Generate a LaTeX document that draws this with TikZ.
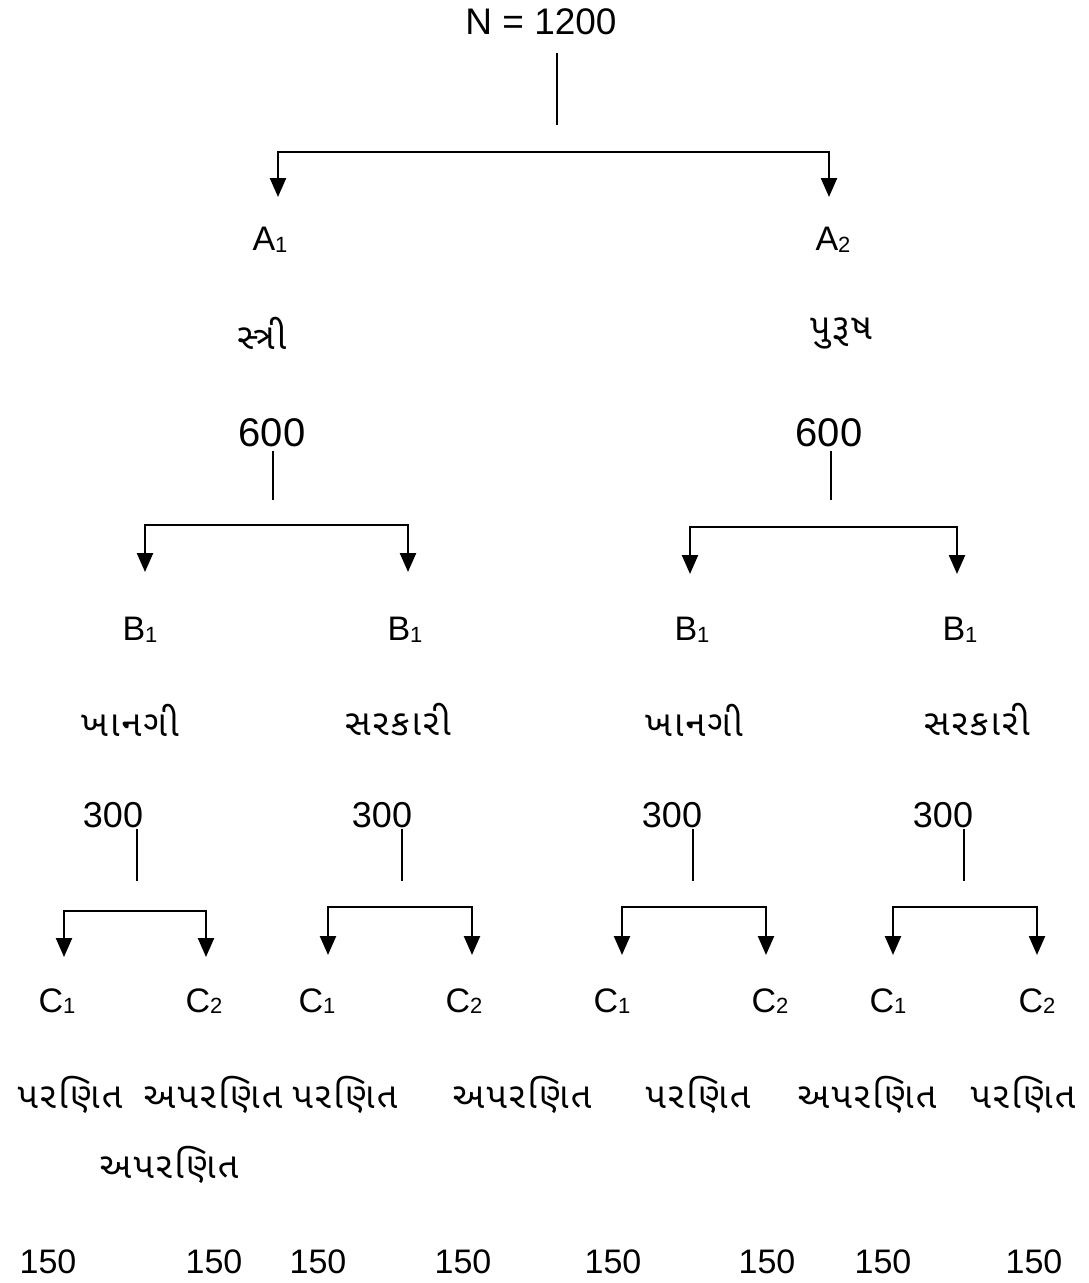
\documentclass[tikz,border=0pt]{standalone}
\usepackage{fontspec}
\setmainfont{Liberation Sans}
\newfontfamily\gujfont[Script=Gujarati,LetterSpace=6]{Noto Sans Gujarati UI}
\usetikzlibrary{arrows.meta}
\newcommand\sbs[1]{\raisebox{-1.5pt}{\fontsize{22}{24}\selectfont #1}}

\begin{document}
\begin{tikzpicture}[
  x=1pt, y=-1pt,
  num/.style={font=\fontsize{34}{40}\selectfont, inner sep=0pt},
  bignum/.style={font=\fontsize{40}{46}\selectfont, inner sep=0pt},
  midnum/.style={font=\fontsize{36}{42}\selectfont, inner sep=0pt},
  lbl/.style={font=\fontsize{34}{40}\selectfont, inner sep=0pt},
  guj/.style={font=\gujfont\fontsize{36}{42}\selectfont, inner sep=0pt},
  stem/.style={line width=1.3pt},
  arr/.style={-{Triangle[width=16pt,length=19pt]}, line width=2.4pt}
]
  \useasboundingbox (0,0) rectangle (1089,1283);

  \node[num, font=\fontsize{37}{42}\selectfont] (n) at (541,22) {N = 1200};
  \coordinate (nS) at (557,125);
  \coordinate (barA) at (557,152);
  \coordinate (a1t) at (278,197);
  \coordinate (a2t) at (829,197);
  \draw[stem, shorten <=18pt] (nS |- n.south) -- (nS);
  \draw[arr] (barA) -| (a1t);
  \draw[arr] (barA) -| (a2t);

  \node[lbl] (a1) at (270,240) {A\sbs{1}};
  \node[lbl] (a2) at (833,240) {A\sbs{2}};
  \node[guj] (fem) at (262,333) {સ્ત્રી};
  \node[guj] (male) at (841,333) {પુરૂષ};
  \node[bignum] (f1) at (272,433) {600};
  \node[bignum] (f2) at (829,433) {600};

  \coordinate (f1s) at (273,500);
  \coordinate (f2s) at (831,500);
  \coordinate (barB1) at (273,525);
  \coordinate (barB2) at (831,527);
  \coordinate (b1t) at (145,572);
  \coordinate (b2t) at (408,572);
  \coordinate (b3t) at (690,574);
  \coordinate (b4t) at (957,574);
  \draw[stem, shorten <=4pt] (f1s |- f1.south) -- (f1s);
  \draw[stem, shorten <=4pt] (f2s |- f2.south) -- (f2s);
  \draw[arr] (barB1) -| (b1t);
  \draw[arr] (barB1) -| (b2t);
  \draw[arr] (barB2) -| (b3t);
  \draw[arr] (barB2) -| (b4t);

  \node[lbl] (b1) at (140,630) {B\sbs{1}};
  \node[lbl] (b2) at (405,630) {B\sbs{1}};
  \node[lbl] (b3) at (692,630) {B\sbs{1}};
  \node[lbl] (b4) at (960,630) {B\sbs{1}};
  \node[guj] (priv1) at (130,720) {ખાનગી};
  \node[guj] (gov1) at (398,720) {સરકારી};
  \node[guj] (priv2) at (694,720) {ખાનગી};
  \node[guj] (gov2) at (977,720) {સરકારી};
  \node[midnum] (t1) at (113,815) {300};
  \node[midnum] (t2) at (382,815) {300};
  \node[midnum] (t3) at (672,815) {300};
  \node[midnum] (t4) at (943,815) {300};

  \coordinate (t1s) at (137,881);
  \coordinate (t2s) at (402,881);
  \coordinate (t3s) at (693,881);
  \coordinate (t4s) at (964,881);
  \coordinate (barC1) at (137,911);
  \coordinate (barC2) at (402,907);
  \coordinate (barC3) at (693,907);
  \coordinate (barC4) at (964,907);
  \coordinate (c1t) at (64,957);
  \coordinate (c2t) at (206,957);
  \coordinate (c3t) at (328,955);
  \coordinate (c4t) at (472,955);
  \coordinate (c5t) at (622,955);
  \coordinate (c6t) at (766,955);
  \coordinate (c7t) at (893,955);
  \coordinate (c8t) at (1037,955);
  \draw[stem, shorten <=1pt] (t1s |- t1.south) -- (t1s);
  \draw[stem, shorten <=1pt] (t2s |- t2.south) -- (t2s);
  \draw[stem, shorten <=1pt] (t3s |- t3.south) -- (t3s);
  \draw[stem, shorten <=1pt] (t4s |- t4.south) -- (t4s);
  \draw[arr] (barC1) -| (c1t);
  \draw[arr] (barC1) -| (c2t);
  \draw[arr] (barC2) -| (c3t);
  \draw[arr] (barC2) -| (c4t);
  \draw[arr] (barC3) -| (c5t);
  \draw[arr] (barC3) -| (c6t);
  \draw[arr] (barC4) -| (c7t);
  \draw[arr] (barC4) -| (c8t);

  \node[lbl] (c1) at (57,1001) {C\sbs{1}};
  \node[lbl] (c2) at (204,1001) {C\sbs{2}};
  \node[lbl] (c3) at (317,1001) {C\sbs{1}};
  \node[lbl] (c4) at (464,1001) {C\sbs{2}};
  \node[lbl] (c5) at (612,1001) {C\sbs{1}};
  \node[lbl] (c6) at (770,1001) {C\sbs{2}};
  \node[lbl] (c7) at (888,1001) {C\sbs{1}};
  \node[lbl] (c8) at (1037,1001) {C\sbs{2}};

  \node[guj] (m1) at (70,1095) {પરણિત};
  \node[guj] (u1) at (213,1095) {અપરણિત};
  \node[guj] (m2) at (345,1095) {પરણિત};
  \node[guj] (u2) at (522,1095) {અપરણિત};
  \node[guj] (m3) at (698,1095) {પરણિત};
  \node[guj] (u3) at (867,1095) {અપરણિત};
  \node[guj] (m4) at (1023,1095) {પરણિત};
  \node[guj] (u4) at (169,1165) {અપરણિત};

  \node[num] (p1) at (48,1262) {150};
  \node[num] (p2) at (214,1262) {150};
  \node[num] (p3) at (318,1262) {150};
  \node[num] (p4) at (463,1262) {150};
  \node[num] (p5) at (613,1262) {150};
  \node[num] (p6) at (767,1262) {150};
  \node[num] (p7) at (883,1262) {150};
  \node[num] (p8) at (1034,1262) {150};
\end{tikzpicture}
\end{document}
